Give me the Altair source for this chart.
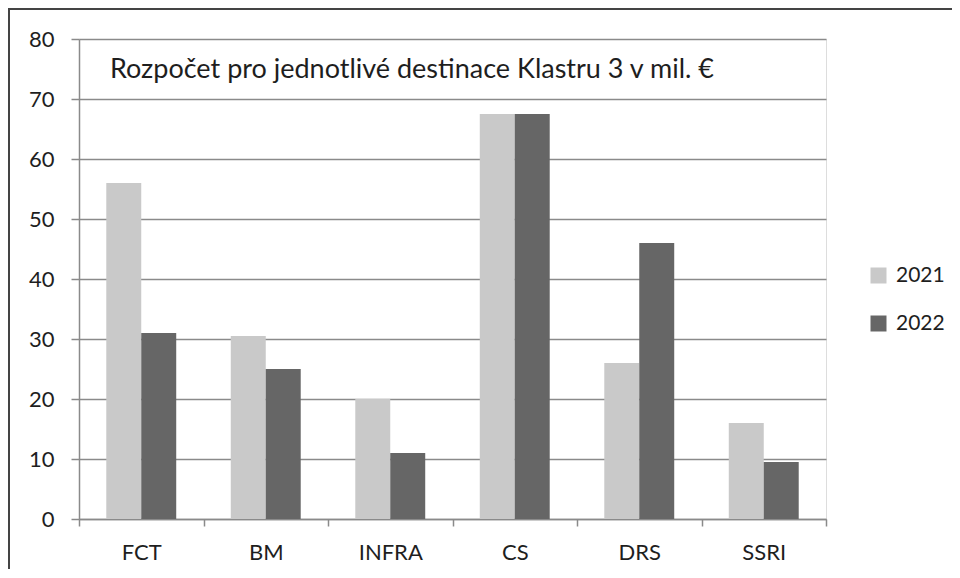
import altair as alt
import pandas as pd

categories = ["FCT", "BM", "INFRA", "CS", "DRS", "SSRI"]
values_2021 = [56, 30.5, 20, 67.5, 26, 16]
values_2022 = [31, 25, 11, 67.5, 46, 9.5]
years = ["2021", "2022"]
title_text = "Rozpočet pro jednotlivé destinace Klastru 3 v mil. €"

rows = []
for i, c in enumerate(categories):
    rows.append({"cat": c, "year": "2021", "value": values_2021[i]})
    rows.append({"cat": c, "year": "2022", "value": values_2022[i]})
df = pd.DataFrame(rows)

FONT = "Lato"
GRID = "#8a8a8a"
TXT = "#1e1e1e"

bars = alt.Chart(df).mark_bar().encode(
    x=alt.X("cat:N", sort=categories, title=None,
            scale=alt.Scale(paddingInner=0, paddingOuter=0),
            axis=alt.Axis(labelAngle=0, tickBand="extent", tickSize=7, tickColor=GRID,
                          tickWidth=1.5, domainColor=GRID, domainWidth=1.5, grid=False,
                          labelFont=FONT, labelFontSize=22, labelColor=TXT, labelPadding=16)),
    xOffset=alt.XOffset("year:N", sort=years,
                        scale=alt.Scale(paddingInner=0, paddingOuter=0.78)),
    y=alt.Y("value:Q", title=None,
            scale=alt.Scale(domain=[0, 80], nice=False),
            axis=alt.Axis(values=list(range(0, 81, 10)), grid=True, gridColor=GRID,
                          gridWidth=1.5, tickSize=8, tickColor=GRID, tickWidth=1.5,
                          domainColor=GRID, domainWidth=1.5, labelFont=FONT,
                          labelFontSize=22, labelColor=TXT, labelPadding=17)),
    color=alt.Color("year:N", sort=years,
                    scale=alt.Scale(domain=years, range=["#c9c9c9", "#666666"]),
                    legend=alt.Legend(title=None, orient="none", legendX=789, legendY=226,
                                      symbolType="square", symbolSize=256,
                                      symbolStrokeWidth=0, labelFont=FONT,
                                      labelFontSize=21, labelColor=TXT, labelOffset=7,
                                      rowPadding=26, padding=0)),
)

title = alt.Chart(pd.DataFrame({"t": [title_text]})).mark_text(
    align="left", baseline="alphabetic", font=FONT, fontSize=27, color=TXT
).encode(text="t:N", x=alt.value(31), y=alt.value(39))

border_v = alt.Chart(pd.DataFrame({"a": [0]})).mark_rule(color="#444444", strokeWidth=2).encode(
    x=alt.value(-70), y=alt.value(-31), y2=alt.value(540))
border_h = alt.Chart(pd.DataFrame({"a": [0]})).mark_rule(color="#444444", strokeWidth=2).encode(
    x=alt.value(-71), x2=alt.value(873), y=alt.value(-30))

chart = alt.layer(bars, title, border_v, border_h).properties(
    width=747, height=480,
    autosize=alt.AutoSizeParams(type="none"),
    padding={"left": 71, "top": 31, "right": 126, "bottom": 50},
).configure_view(stroke=None).configure(background="white")

chart.save("out.html", embed_options={"renderer": "svg", "actions": False})
